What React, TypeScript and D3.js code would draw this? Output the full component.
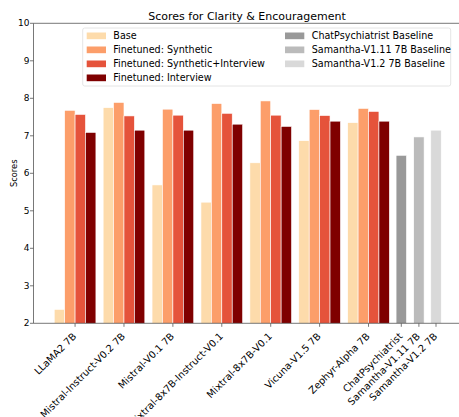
import React from "react";
import * as d3 from "d3";

const models = [
  "LLaMA2 7B",
  "Mistral-Instruct-V0.2 7B",
  "Mistral-V0.1 7B",
  "Mixtral-8x7B-Instruct-V0.1",
  "Mixtral-8x7B-V0.1",
  "Vicuna-V1.5 7B",
  "Zephyr-Alpha 7B",
];
const seriesNames = ["Base", "Finetuned: Synthetic", "Finetuned: Synthetic+Interview", "Finetuned: Interview"];
const base = [2.37, 7.75, 5.69, 5.23, 6.28, 6.87, 7.35];
const synthetic = [7.68, 7.89, 7.71, 7.86, 7.93, 7.7, 7.73];
const synthInterview = [7.57, 7.53, 7.55, 7.6, 7.55, 7.54, 7.65];
const interview = [7.09, 7.15, 7.15, 7.31, 7.25, 7.39, 7.39];
const seriesColors = ["#fddbab", "#fc9e6a", "#e5533b", "#7f0000"];

const baselineNames = ["ChatPsychiatrist Baseline", "Samantha-V1.11 7B Baseline", "Samantha-V1.2 7B Baseline"];
const baselineLabels = ["ChatPsychiatrist", "Samantha-V1.11 7B", "Samantha-V1.2 7B"];
const baselineValues = [6.48, 6.97, 7.15];
const baselinePos = [6.67, 7.03, 7.38];
const baselineColors = ["#999999", "#bbbbbb", "#d9d9d9"];

const yTicks = [2, 3, 4, 5, 6, 7, 8, 9, 10];

const W = 459, H = 417;
const FONT = "DejaVu Sans, sans-serif";

export default function App() {
  const left = 33.5, right = 459, top = 23.3, bottom = 323.3;
  const x = d3.scaleLinear().domain([-0.85, 7.85]).range([left, right]);
  const y = d3.scaleLinear().domain([2, 10]).range([bottom, top]);
  const bw = 0.213;
  const series = [base, synthetic, synthInterview, interview];

  const bars: JSX.Element[] = [];
  series.forEach((vals, si) => {
    vals.forEach((v, i) => {
      const cx = i + (si - 1.5) * bw;
      const x0 = x(cx - bw / 2), x1 = x(cx + bw / 2);
      bars.push(
        <rect key={`s${si}-${i}`} x={x0} y={y(v)} width={x1 - x0} height={y(2) - y(v)}
          fill={seriesColors[si]} stroke="white" strokeWidth={0.6} />
      );
    });
  });
  baselineValues.forEach((v, i) => {
    const x0 = x(baselinePos[i] - bw / 2), x1 = x(baselinePos[i] + bw / 2);
    bars.push(
      <rect key={`b${i}`} x={x0} y={y(v)} width={x1 - x0} height={y(2) - y(v)}
        fill={baselineColors[i]} stroke="white" strokeWidth={0.6} />
    );
  });

  const xTicks = [
    ...models.map((m, i) => ({ label: m, pos: i })),
    ...baselineLabels.map((m, i) => ({ label: m, pos: baselinePos[i] })),
  ];

  const legendLeft = seriesNames.map((n, i) => ({ name: n, color: seriesColors[i] }));
  const legendRight = baselineNames.map((n, i) => ({ name: n, color: baselineColors[i] }));

  return (
    <svg width={W} height={H} style={{ position: "absolute", left: 0, top: 0, background: "white" }} fontFamily={FONT}>
      <text x={247} y={19.5} textAnchor="middle" fontSize={11} fill="#000">Scores for Clarity &amp; Encouragement</text>
      {bars}
      <line x1={left} x2={left} y1={top} y2={bottom} stroke="#555" strokeWidth={0.8} />
      <line x1={left} x2={right} y1={bottom} y2={bottom} stroke="#555" strokeWidth={0.8} />
      <line x1={left} x2={right} y1={top} y2={top} stroke="#555" strokeWidth={0.8} />
      {yTicks.map((t) => (
        <g key={t}>
          <line x1={left - 3.5} x2={left} y1={y(t)} y2={y(t)} stroke="#555" strokeWidth={0.8} />
          <text x={left - 4} y={y(t)} dy="0.35em" textAnchor="end" fontSize={9} fill="#000">{t}</text>
        </g>
      ))}
      <text transform={`translate(14,${(top + bottom) / 2}) rotate(-90)`} textAnchor="middle" dy="0.35em" fontSize={8.3} fill="#000">Scores</text>
      {xTicks.map((t, i) => (
        <g key={i}>
          <line x1={x(t.pos)} x2={x(t.pos)} y1={bottom} y2={bottom + 3.5} stroke="#555" strokeWidth={0.8} />
          <text transform={`translate(${x(t.pos) + 1.9},${bottom + 13.6}) rotate(-45)`} textAnchor="end" fontSize={9.8} fill="#000">{t.label}</text>
        </g>
      ))}
      <rect x={82.7} y={28} width={368} height={58} rx={2} fill="white" fillOpacity={0.8} stroke="#ddd" strokeWidth={0.8} />
      {legendLeft.map((e, i) => (
        <g key={e.name}>
          <rect x={86.7} y={32.5 + i * 14} width={19.3} height={6.7} fill={e.color} />
          <text x={113.3} y={35.8 + i * 14} dy="0.35em" fontSize={9.6} fill="#000">{e.name}</text>
        </g>
      ))}
      {legendRight.map((e, i) => (
        <g key={e.name}>
          <rect x={285} y={32.5 + i * 14} width={19.3} height={6.7} fill={e.color} />
          <text x={311.7} y={35.8 + i * 14} dy="0.35em" fontSize={9.6} fill="#000">{e.name}</text>
        </g>
      ))}
    </svg>
  );
}
